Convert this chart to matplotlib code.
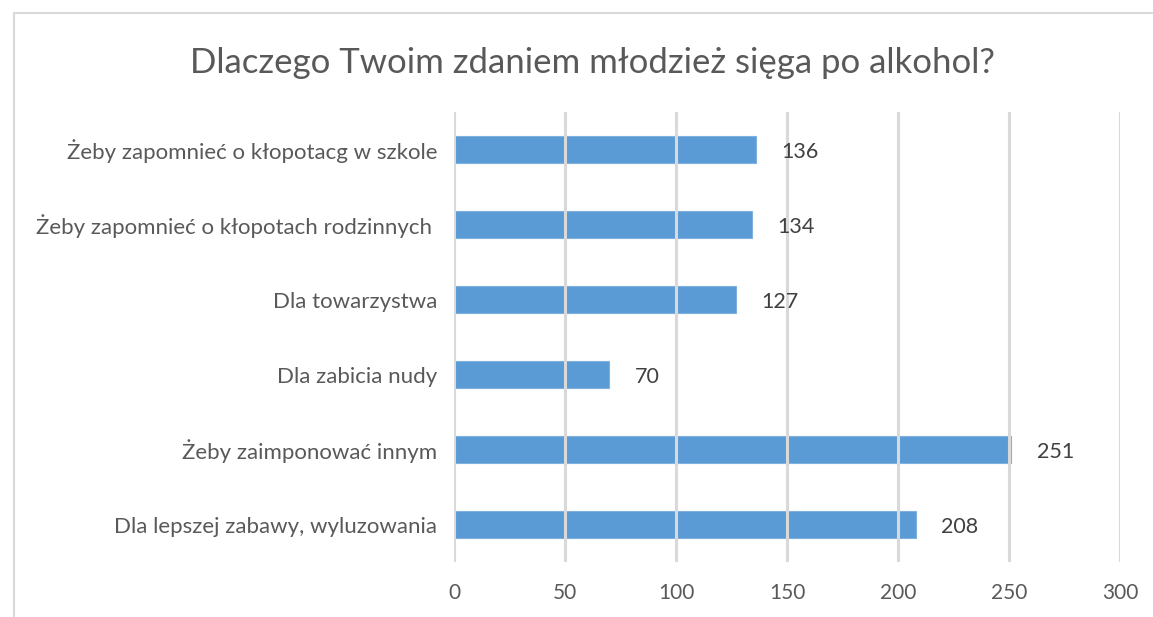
import matplotlib.pyplot as plt
from matplotlib.patches import Rectangle

# Chart data (top to bottom as shown)
categories = [
    'Żeby zapomnieć o kłopotacg w szkole',
    'Żeby zapomnieć o kłopotach rodzinnych ',
    'Dla towarzystwa',
    'Dla zabicia nudy',
    'Żeby zaimponować innym',
    'Dla lepszej zabawy, wyluzowania',
]
counts = [136, 134, 127, 70, 251, 208]
xticks = [0, 50, 100, 150, 200, 250, 300]

title = 'Dlaczego Twoim zdaniem młodzież sięga po alkohol?'

plt.rcParams['font.family'] = ['Lato', 'DejaVu Sans']
text_col = '#595959'
bar_col = '#5B9BD5'
grid_col = '#D9D9D9'

fig = plt.figure(figsize=(11.53, 6.17), dpi=100)
ax = fig.add_axes([0.3938, 0.0891, 0.5776, 0.7294])

ypos = list(range(len(categories)))[::-1]
ax.barh(ypos, counts, height=0.36, color=bar_col, edgecolor='#7FB0DE',
        linewidth=0.8, zorder=1)

for y, v in zip(ypos, counts):
    ax.text(v + 11.5, y - 0.03, str(v), va='center', ha='left', fontsize=15.5,
            color='#404040')

ax.set_xlim(0, 300)
ax.set_ylim(-0.5, 5.5)
ax.set_xticks(xticks)
ax.set_xticklabels([str(t) for t in xticks], fontsize=15, color=text_col)
ax.set_yticks(ypos)
ax.set_yticklabels(categories, fontsize=16, color=text_col)
ax.tick_params(axis='both', length=0)
ax.tick_params(axis='x', pad=15)
ax.tick_params(axis='y', pad=12)
ax.xaxis.grid(True, color=grid_col, linewidth=2.2, zorder=3)
ax.set_axisbelow(False)
for s in ax.spines.values():
    s.set_visible(False)

fig.text(0.514, 0.898, title, ha='center', va='center', fontsize=25,
         color=text_col)

# outer chart border (only top and left visible)
fig.patches.append(Rectangle((14 / 1153, -0.1), 1.2, 1 - 13 / 617 + 0.1,
                             transform=fig.transFigure, fill=False,
                             edgecolor='#D9D9D9', linewidth=1.5))

fig.savefig('out.png', dpi=100)
